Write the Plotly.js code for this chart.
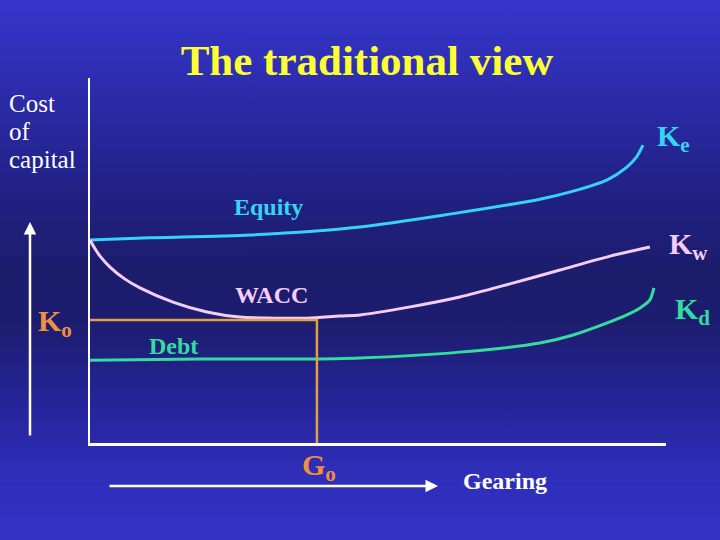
<!DOCTYPE html>
<html>
<head>
<meta charset="utf-8">
<script src="https://cdn.plot.ly/plotly-3.0.1.min.js"></script>
<style>
  html, body { margin: 0; padding: 0; }
  #plot {
    width: 720px; height: 540px;
    background: linear-gradient(to bottom, #3535cc 0%, #2d2db0 15%, #22228a 33%, #1c1c6c 50%, #1d1d70 60%, #25259a 75%, #2e2eba 88%, #3232c6 100%);
  }
</style>
</head>
<body>
<div id="plot"></div>
<script>
// Gearing (x) and cost of capital (y) in arbitrary 0-100 units
const equityX = [0, 10.4, 27.8, 46.9, 62.5, 78.1, 83.9, 89.8, 93.2, 94.9, 96.0];
const equityY = [55.6, 56.2, 57.0, 59.2, 62.7, 66.8, 69.0, 72.1, 75.6, 78.4, 81.6];

const waccX = [0, 0.87, 1.74, 3.47, 6.08, 8.68, 14.4, 20.3, 26.0, 31.8, 37.7, 43.4, 46.9, 55.6, 64.2, 72.9, 81.6, 90.3, 97.2];
const waccY = [55.6, 53.2, 51.2, 48.2, 44.9, 42.5, 38.6, 35.9, 34.5, 34.2, 34.2, 34.8, 35.1, 37.3, 40.0, 43.6, 47.4, 51.2, 53.7];

const debtX = [0, 19.1, 36.5, 46.9, 64.2, 78.1, 83.9, 89.8, 93.2, 95.5, 97.2, 97.9];
const debtY = [22.7, 23.0, 23.0, 23.3, 24.9, 27.4, 29.6, 32.9, 35.1, 37.0, 39.2, 42.5];

// Optimal gearing G0 and minimum WACC K0
const optimumX = 39.4;
const optimumY = 33.7;

const colors = {
  equity: '#36d4f2',
  wacc: '#f6cdf6',
  debt: '#33dd9e',
  opt: '#e0a043',
  optText: '#f0903c',
  title: '#ffff33'
};

const serif = 'Liberation Serif, Times New Roman, serif';

// plot area in pixels: left 90, right 666, top 78, bottom 443
const L = 90, R = 666, T = 78, B = 443;
const px = x => (x - L) / (R - L);
const py = y => (B - y) / (B - T);

const traces = [
  { x: equityX, y: equityY, mode: 'lines', line: { color: colors.equity, width: 3, shape: 'spline', smoothing: 0.8 } },
  { x: waccX, y: waccY, mode: 'lines', line: { color: colors.wacc, width: 3, shape: 'spline', smoothing: 0.8 } },
  { x: debtX, y: debtY, mode: 'lines', line: { color: colors.debt, width: 3, shape: 'spline', smoothing: 0.8 } },
  { x: [0, optimumX, optimumX], y: [optimumY, optimumY, 0], mode: 'lines', line: { color: colors.opt, width: 2.5 } }
];

function lbl(text, x, y, color, size, bold, anchor) {
  return {
    text: bold ? '<b>' + text + '</b>' : text,
    xref: 'paper', yref: 'paper', x: px(x), y: py(y),
    xanchor: anchor || 'center', yanchor: 'middle', showarrow: false,
    font: { family: serif, size: size, color: color }
  };
}

const annotations = [
  lbl('Cost', 7, 103, '#ffffff', 25, false, 'left'),
  lbl('of', 7, 131, '#ffffff', 25, false, 'left'),
  lbl('capital', 7, 159, '#ffffff', 25, false, 'left'),
  lbl('Equity', 268, 207, colors.equity, 24, true),
  lbl('WACC', 271, 295, colors.wacc, 24, true),
  lbl('Debt', 173, 346, colors.debt, 24, true),
  lbl('K<sub>e</sub>', 673, 138, colors.equity, 30, true),
  lbl('K<sub>w</sub>', 688, 246, colors.wacc, 30, true),
  lbl('K<sub>d</sub>', 692, 311, colors.debt, 30, true),
  lbl('K<sub>o</sub>', 55, 323, colors.optText, 30, true),
  lbl('G<sub>o</sub>', 319, 467, colors.optText, 30, true),
  lbl('Gearing', 505, 481, '#ffffff', 24, true),
  // vertical arrow (cost of capital)
  { text: '', xref: 'paper', yref: 'paper', x: px(30), y: py(222), ax: 0, ay: 215,
    showarrow: true, arrowhead: 2, arrowsize: 1, arrowwidth: 2.5, arrowcolor: '#ffffff' },
  // horizontal arrow (gearing)
  { text: '', xref: 'paper', yref: 'paper', x: px(438), y: py(486), ax: -330, ay: 0,
    showarrow: true, arrowhead: 2, arrowsize: 1, arrowwidth: 2.5, arrowcolor: '#ffffff' }
];

const layout = {
  width: 720, height: 540,
  margin: { l: L, r: 720 - R, t: T, b: 540 - B, pad: 0 },
  paper_bgcolor: 'rgba(0,0,0,0)',
  plot_bgcolor: 'rgba(0,0,0,0)',
  showlegend: false,
  hovermode: false,
  title: {
    text: '<b>The traditional view</b>',
    font: { family: serif, size: 43, color: colors.title },
    x: 367 / 720, xanchor: 'center', xref: 'container',
    y: 1 - 60 / 540, yanchor: 'middle', yref: 'container'
  },
  xaxis: { range: [0, 100], showgrid: false, zeroline: false, showticklabels: false, ticks: '',
           showline: true, linecolor: '#ffffff', linewidth: 2.5, fixedrange: true },
  yaxis: { range: [0, 100], showgrid: false, zeroline: false, showticklabels: false, ticks: '',
           showline: true, linecolor: '#ffffff', linewidth: 2.5, fixedrange: true },
  annotations: annotations
};

Plotly.newPlot('plot', traces, layout, { staticPlot: true, displayModeBar: false });
</script>
</body>
</html>
